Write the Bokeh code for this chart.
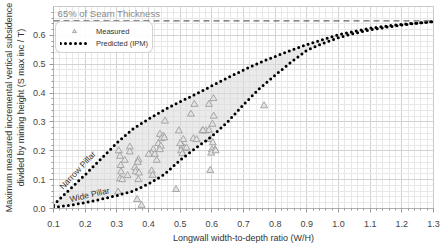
from bokeh.plotting import figure
from bokeh.models import (Span, Label, Legend, LegendItem, SingleIntervalTicker,
                          PrintfTickFormatter, ColumnDataSource, Range1d)
from bokeh.embed import file_html
from bokeh.resources import INLINE

# ---- data ----
curve_x = [0.10, 0.15, 0.20, 0.25, 0.30, 0.35, 0.40, 0.45, 0.50, 0.55, 0.60, 0.65,
           0.70, 0.75, 0.80, 0.85, 0.90, 0.95, 1.00, 1.05, 1.10, 1.15, 1.20, 1.25, 1.30]
narrow_y = [0.012, 0.065, 0.117, 0.172, 0.227, 0.275, 0.310, 0.342, 0.370, 0.397, 0.425, 0.453,
            0.480, 0.505, 0.527, 0.548, 0.568, 0.585, 0.602, 0.614, 0.625, 0.632, 0.638, 0.643, 0.648]
wide_y = [0.004, 0.011, 0.020, 0.032, 0.045, 0.060, 0.085, 0.118, 0.168, 0.210, 0.250, 0.300,
          0.360, 0.415, 0.462, 0.507, 0.548, 0.572, 0.592, 0.607, 0.619, 0.628, 0.636, 0.642, 0.648]

meas_x = [0.605, 0.545, 0.591, 0.534, 0.606, 0.452, 0.602, 0.496, 0.570, 0.581, 0.591, 0.436,
          0.447, 0.441, 0.542, 0.552, 0.510, 0.431, 0.507, 0.513, 0.503, 0.439, 0.436, 0.415,
          0.410, 0.401, 0.420, 0.507, 0.341, 0.306, 0.310, 0.341, 0.325, 0.368, 0.357, 0.362,
          0.359, 0.370, 0.313, 0.310, 0.317, 0.368, 0.410, 0.413, 0.426, 0.595, 0.600, 0.610,
          0.598, 0.595, 0.487, 0.304, 0.364, 0.378, 0.765, 0.572, 0.603, 0.612, 0.450, 0.520,
          0.312, 0.334, 0.366, 0.500]
meas_y = [0.381, 0.361, 0.361, 0.327, 0.320, 0.303, 0.292, 0.269, 0.269, 0.269, 0.271, 0.257,
          0.251, 0.242, 0.242, 0.239, 0.239, 0.225, 0.216, 0.208, 0.200, 0.216, 0.204, 0.204,
          0.190, 0.188, 0.188, 0.190, 0.213, 0.200, 0.181, 0.196, 0.167, 0.169, 0.142, 0.132,
          0.127, 0.123, 0.127, 0.103, 0.100, 0.100, 0.130, 0.115, 0.167, 0.239, 0.204, 0.204,
          0.192, 0.132, 0.066, 0.057, 0.031, 0.011, 0.356, 0.270, 0.228, 0.200, 0.245, 0.210,
          0.149, 0.114, 0.160, 0.225]

seam_fraction = 0.65
x_ticks_interval = 0.1
y_ticks_interval = 0.1

FONT = "Liberation Sans"

p = figure(width=440, height=245, output_backend="svg", toolbar_location=None,
           x_range=Range1d(0.1, 1.3), y_range=Range1d(0.0, 0.7),
           min_border_left=10, min_border_right=7, min_border_top=6, min_border_bottom=10)
p.outline_line_color = "#c8c8c8"
p.background_fill_color = "white"

# axes
for ax, iv in ((p.xaxis[0], x_ticks_interval), (p.yaxis[0], y_ticks_interval)):
    ax.ticker = SingleIntervalTicker(interval=iv, num_minor_ticks=5)
    ax.formatter = PrintfTickFormatter(format="%.1f")
    ax.major_label_text_font = FONT
    ax.major_label_text_font_size = "9px"
    ax.major_label_text_color = "#444444"
    ax.axis_label_text_font = FONT
    ax.axis_label_text_font_size = "9px"
    ax.axis_label_text_font_style = "normal"
    ax.axis_label_text_color = "#333333"
    ax.axis_line_color = "#b0b0b0"
    ax.major_tick_line_color = "#999999"
    ax.minor_tick_line_color = "#999999"
    ax.major_tick_out = 4
    ax.major_tick_in = 0
    ax.minor_tick_out = 2
    ax.minor_tick_in = 0

p.xaxis.major_label_standoff = 8
p.xaxis.axis_label_standoff = 3
p.yaxis.major_label_standoff = 4
p.yaxis.axis_label_standoff = 4

p.xaxis.axis_label = "Longwall width-to-depth ratio (W/H)"
p.yaxis.axis_label = "Maximum measured incremental vertical subsidence\ndivided by mining height (S max inc / T)"

p.xgrid.grid_line_color = "#d2d2d2"
p.ygrid.grid_line_color = "#d2d2d2"
p.xgrid.minor_grid_line_color = "#e8e8e8"
p.ygrid.minor_grid_line_color = "#e8e8e8"

# shaded band between predicted limits
p.varea(x=curve_x, y1=wide_y, y2=narrow_y, fill_color="#d9d9d9", fill_alpha=0.55)

# 65% line
p.add_layout(Span(location=seam_fraction, dimension="width", line_color="#666666",
                  line_width=1.3, line_dash="6 4"))
p.add_layout(Label(x=0.113, y=0.657, text="65% of Seam Thickness", text_font=FONT,
                   text_font_size="9.5px", text_color="#8a8a8a"))

# measured
src_m = ColumnDataSource(dict(x=meas_x, y=meas_y))
r_meas = p.scatter("x", "y", source=src_m, marker="triangle", size=7,
                   line_color="#9e9e9e", fill_color="#e4e4e4", line_width=0.9)

# predicted
r_up = p.line(curve_x, narrow_y, line_color="black", line_width=3, line_dash="0 5",
              line_cap="round")
r_lo = p.line(curve_x, wide_y, line_color="black", line_width=3, line_dash="0 5",
              line_cap="round")

p.add_layout(Label(x=0.176, y=0.133, text="Narrow Pillar", angle=47, angle_units="deg",
                   text_font=FONT, text_font_size="8.5px", text_color="#333333",
                   text_align="center", text_baseline="middle"))
p.add_layout(Label(x=0.214, y=0.048, text="Wide Pillar", angle=13, angle_units="deg",
                   text_font=FONT, text_font_size="8.5px", text_color="#333333",
                   text_align="center", text_baseline="middle"))

legend = Legend(items=[LegendItem(label="Measured", renderers=[r_meas]),
                       LegendItem(label="Predicted (IPM)", renderers=[r_up])],
                location=(2, 155), padding=4, spacing=2, label_height=10, glyph_height=10,
                glyph_width=28, label_standoff=8, margin=0,
                label_text_font=FONT, label_text_font_size="7.5px", label_text_color="#333333",
                border_line_color="#aaaaaa", background_fill_alpha=0.9)
try:
    legend.border_radius = 6
except Exception:
    pass
p.add_layout(legend)

open("out.html", "w").write(file_html(p, INLINE))
